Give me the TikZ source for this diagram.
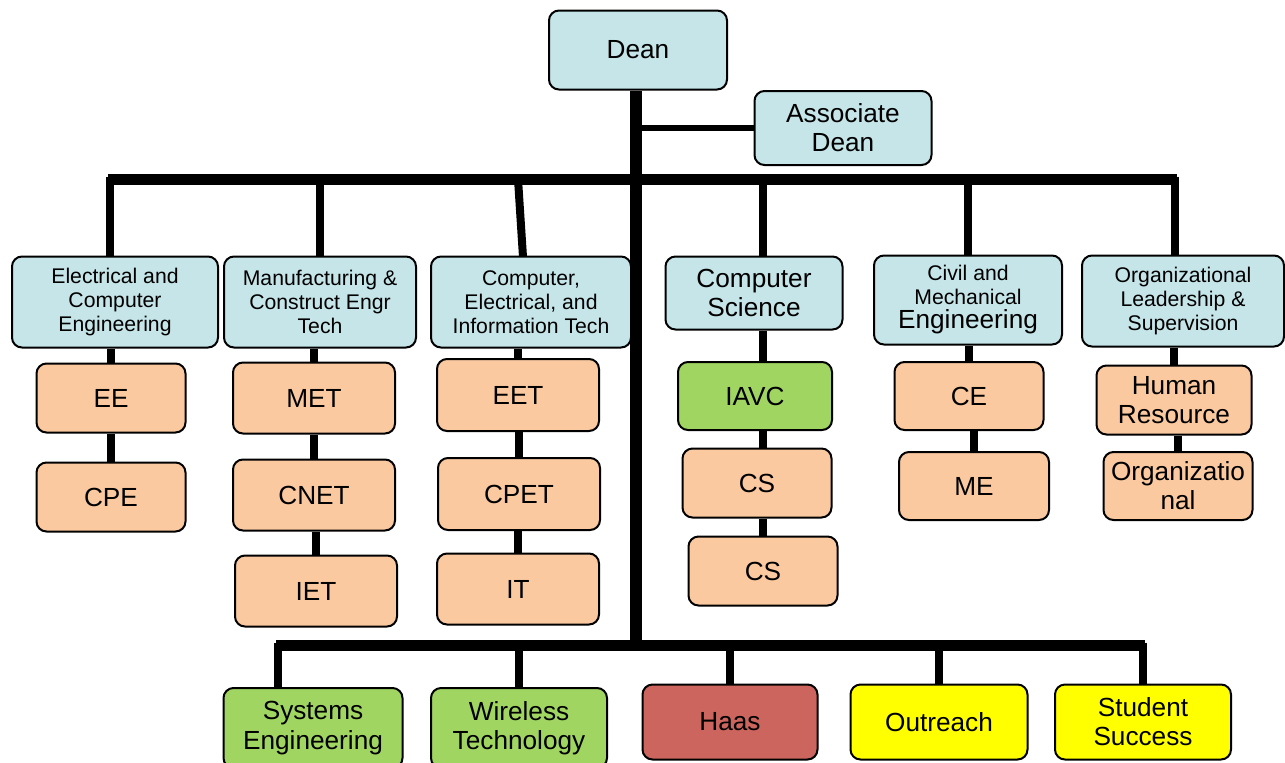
\documentclass[tikz,border=0pt]{standalone}
\usepackage{fontspec}
\setmainfont{Liberation Sans}
\usetikzlibrary{backgrounds,calc}
\definecolor{lblue}{HTML}{C5E5E8}
\definecolor{lorange}{HTML}{FAC9A0}
\definecolor{lgreen}{HTML}{A1D562}
\definecolor{lred}{HTML}{CC655E}
\definecolor{lyellow}{HTML}{FFFF00}
\tikzset{
  box/.style={draw=black, line width=1pt, rounded corners=5pt, align=center, inner sep=0pt},
  bigtxt/.style={font=\fontsize{13.1}{14.6}\selectfont},
  smalltxt/.style={font=\fontsize{10.6}{12}\selectfont},
  bluebox/.style={box, fill=lblue},
  orangebox/.style={box, fill=lorange, bigtxt},
  greenbox/.style={box, fill=lgreen, bigtxt},
  redbox/.style={box, fill=lred, bigtxt},
  yellowbox/.style={box, fill=lyellow, bigtxt},
  sz/.style 2 args={minimum width=#1*0.5pt, minimum height=#2*0.5pt},
  bar/.style={line width=5.5pt},
  trunk/.style={line width=6pt},
  drop/.style={line width=4pt},
  thinlink/.style={line width=3pt},
}
\begin{document}
\begin{tikzpicture}[x=0.5pt, y=-0.5pt]
\useasboundingbox (0,0) rectangle (1285,762);
% top
\node[bluebox, bigtxt, sz={178}{79}] (dean) at (638,50) {Dean};
\node[bluebox, bigtxt, sz={177}{74}] (assoc) at (843,128) {Associate\\Dean};
% departments
\node[bluebox, smalltxt, sz={206}{91}] (ece) at (115,302) {Electrical and\\Computer\\Engineering};
\node[bluebox, smalltxt, sz={192}{91}] (mcet) at (320,302) {Manufacturing \&\\Construct Engr\\Tech};
\node[bluebox, smalltxt, sz={200}{91}] (ceit) at (531,302) {Computer,\\Electrical, and\\Information Tech};
\node[bluebox, bigtxt, sz={177}{73}] (csd) at (754,293) {Computer\\Science};
\node[bluebox, smalltxt, sz={188}{89}] (cme) at (968,300) {Civil and\\Mechanical\\\fontsize{13.1}{13.5}\selectfont Engineering};
\node[bluebox, smalltxt, sz={202}{91}] (ols) at (1183,301) {Organizational\\Leadership \&\\Supervision};
% programs
\node[orangebox, sz={149}{69}] (ee) at (111,398) {EE};
\node[orangebox, sz={149}{69}] (cpe) at (111,497) {CPE};
\node[orangebox, sz={162}{71}] (met) at (314,398) {MET};
\node[orangebox, sz={162}{71}] (cnet) at (314,495) {CNET};
\node[orangebox, sz={162}{71}] (iet) at (316,591) {IET};
\node[orangebox, sz={162}{72}] (eet) at (518,395) {EET};
\node[orangebox, sz={162}{72}] (cpet) at (519,494) {CPET};
\node[orangebox, sz={162}{71}] (it) at (518,589) {IT};
\node[greenbox, sz={154}{68}] (iavc) at (755,396) {IAVC};
\node[orangebox, sz={149}{69}] (csa) at (757,483) {CS};
\node[orangebox, sz={149}{69}] (csb) at (763,571) {CS};
\node[orangebox, sz={149}{68}] (ce) at (969,396) {CE};
\node[orangebox, sz={150}{68}] (me) at (974,486) {ME};
\node[orangebox, sz={155}{69}] (hr) at (1174,400) {Human\\Resource};
\node[orangebox, sz={149}{68}] (org) at (1178,486) {Organizatio\\nal};
% bottom row
\node[greenbox, sz={179}{80}] (se) at (313,728) {Systems\\Engineering};
\node[greenbox, sz={176}{80}] (wt) at (519,728) {Wireless\\Technology};
\node[redbox, sz={175}{75}] (haas) at (730,722) {Haas};
\node[yellowbox, sz={177}{75}] (outr) at (939,722) {Outreach};
\node[yellowbox, sz={176}{75}] (ss) at (1143,722) {Student\\Success};
% bar coordinates
\coordinate (topL) at (108,179);
\coordinate (topR) at (1177,179);
\coordinate (botL) at (276,645);
\coordinate (botR) at (1145,645);
\coordinate (botM) at (636,645);
\coordinate (ceitTop) at (518,179);
\coordinate (ceitBot) at (523,257);
\begin{scope}[on background layer]
  \draw[trunk] (dean.south -| botM) -- (botM);
  \draw[thinlink] (assoc.west) -- (assoc.west -| botM);
  \draw[bar] (topL) -- (topR);
  \draw[bar] (botL) -- (botR);
  % drops from top bar
  \draw[drop] ($(topL)+(2,-2.5)$) -- (ece.north -| 110,0);
  \draw[drop] (mcet.north) -- (mcet.north |- topL);
  \draw[drop] (ceitTop) -- (ceitBot);
  \draw[drop] (csb.north |- csd.north) -- (csb.north |- topL);
  \draw[drop] (cme.north) -- (cme.north |- topL);
  \draw[drop] ($(topR)+(-2,-2.5)$) -- (ols.north -| 1175,0);
  % program links
  \draw[drop] (ee.north) -- (ee.north |- ece.south);
  \draw[drop] (cpe.north) -- (cpe.north |- ee.south);
  \draw[drop] (met.north) -- (met.north |- mcet.south);
  \draw[drop] (cnet.north) -- (cnet.north |- met.south);
  \draw[drop] (iet.north) -- (iet.north |- cnet.south);
  \draw[drop] (eet.north) -- (eet.north |- ceit.south);
  \draw[drop] (cpet.north) -- (cpet.north |- eet.south);
  \draw[drop] (it.north) -- (it.north |- cpet.south);
  \draw[drop] (csb.north |- iavc.north) -- (csb.north |- csd.south);
  \draw[drop] (csb.north |- csa.north) -- (csb.north |- iavc.south);
  \draw[drop] (csb.north) -- (csb.north |- csa.south);
  \draw[drop] (ce.north) -- (ce.north |- cme.south);
  \draw[drop] (me.north) -- (me.north |- ce.south);
  \draw[drop] (hr.north) -- (hr.north |- ols.south);
  \draw[drop] (org.north) -- (org.north |- hr.south);
  % bottom drops
  \draw[drop] ($(botL)+(2,-2.5)$) -- (se.north -| 278,0);
  \draw[drop] (wt.north) -- (wt.north |- botL);
  \draw[drop] (haas.north) -- (haas.north |- botL);
  \draw[drop] (outr.north) -- (outr.north |- botL);
  \draw[drop] ($(botR)+(-2,-2.5)$) -- (ss.north -| 1143,0);
\end{scope}
\end{tikzpicture}
\end{document}
